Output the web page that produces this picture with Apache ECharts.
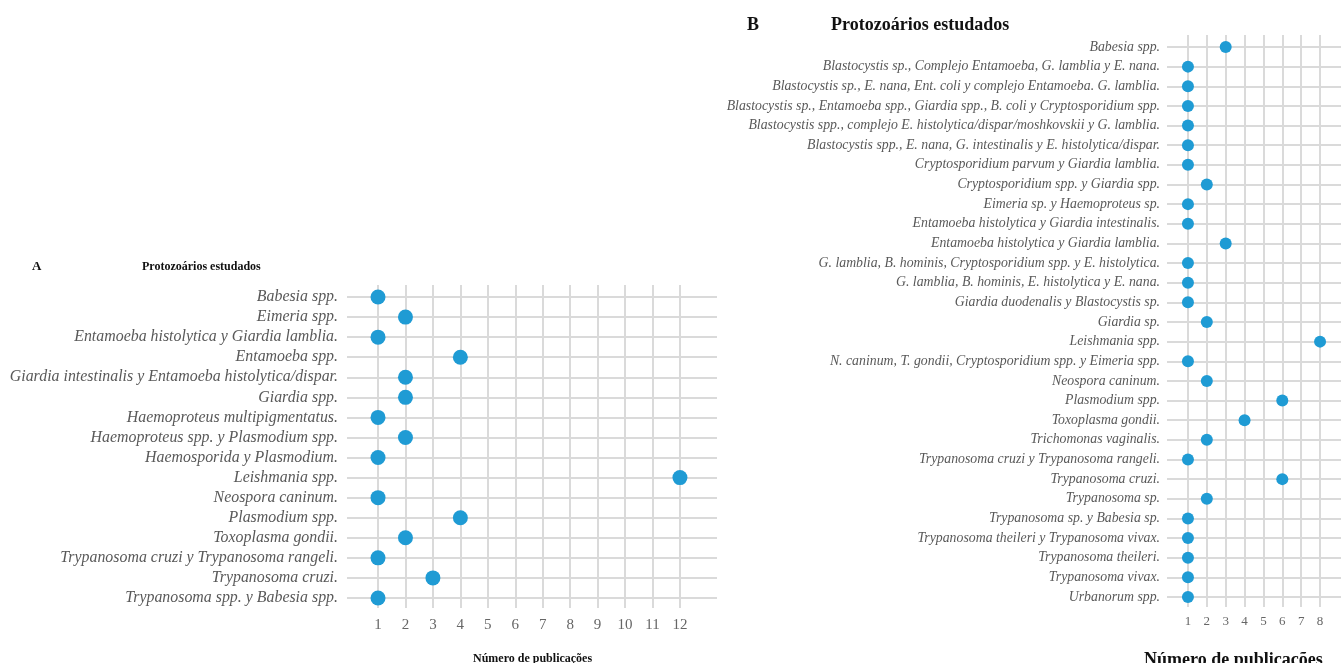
<!DOCTYPE html>
<html>
<head>
<meta charset="utf-8">
<script src="https://cdn.jsdelivr.net/npm/echarts@6/dist/echarts.min.js"></script>
<style>
  html, body { margin: 0; padding: 0; background: #fff; }
  #chart { width: 1341px; height: 663px; }
</style>
</head>
<body>
<div id="chart"></div>
<script>
// panel A
const catsA = [
  'Babesia spp.',
  'Eimeria spp.',
  'Entamoeba histolytica y Giardia lamblia.',
  'Entamoeba spp.',
  'Giardia intestinalis y Entamoeba histolytica/dispar.',
  'Giardia spp.',
  'Haemoproteus multipigmentatus.',
  'Haemoproteus spp. y Plasmodium spp.',
  'Haemosporida y Plasmodium.',
  'Leishmania spp.',
  'Neospora caninum.',
  'Plasmodium spp.',
  'Toxoplasma gondii.',
  'Trypanosoma cruzi y Trypanosoma rangeli.',
  'Trypanosoma cruzi.',
  'Trypanosoma spp. y Babesia spp.'
]
const valsA = [1, 2, 1, 4, 2, 2, 1, 2, 1, 12, 1, 4, 2, 1, 3, 1]
const ticksA = [1, 2, 3, 4, 5, 6, 7, 8, 9, 10, 11, 12]

// panel B
const catsB = [
  'Babesia spp.',
  'Blastocystis sp., Complejo Entamoeba, G. lamblia y E. nana.',
  'Blastocystis sp., E. nana, Ent. coli y complejo Entamoeba. G. lamblia.',
  'Blastocystis sp., Entamoeba spp., Giardia spp., B. coli y Cryptosporidium spp.',
  'Blastocystis spp., complejo E. histolytica/dispar/moshkovskii y G. lamblia.',
  'Blastocystis spp., E. nana, G. intestinalis y E. histolytica/dispar.',
  'Cryptosporidium parvum y Giardia lamblia.',
  'Cryptosporidium spp. y Giardia spp.',
  'Eimeria sp. y Haemoproteus sp.',
  'Entamoeba histolytica y Giardia intestinalis.',
  'Entamoeba histolytica y Giardia lamblia.',
  'G. lamblia, B. hominis, Cryptosporidium spp. y E. histolytica.',
  'G. lamblia, B. hominis, E. histolytica y E. nana.',
  'Giardia duodenalis y Blastocystis sp.',
  'Giardia sp.',
  'Leishmania spp.',
  'N. caninum, T. gondii, Cryptosporidium spp. y Eimeria spp.',
  'Neospora caninum.',
  'Plasmodium spp.',
  'Toxoplasma gondii.',
  'Trichomonas vaginalis.',
  'Trypanosoma cruzi y Trypanosoma rangeli.',
  'Trypanosoma cruzi.',
  'Trypanosoma sp.',
  'Trypanosoma sp. y Babesia sp.',
  'Trypanosoma theileri y Trypanosoma vivax.',
  'Trypanosoma theileri.',
  'Trypanosoma vivax.',
  'Urbanorum spp.'
]
const valsB = [3, 1, 1, 1, 1, 1, 1, 2, 1, 1, 3, 1, 1, 1, 2, 8, 1, 2, 6, 4, 2, 1, 6, 2, 1, 1, 1, 1, 1]
const ticksB = [1, 2, 3, 4, 5, 6, 7, 8]

const serif = '"Liberation Serif", "DejaVu Serif", serif'
const gridCol = '#dadada'
const dotCol = '#1f9bd4'

// y axis as value axis so that the gridlines sit on the category centres
function yAxisFor(cats, gridIndex, min, max, fontSize, margin) {
  const idx = cats.map((c, i) => i)
  return {
    type: 'value',
    gridIndex: gridIndex,
    inverse: true,
    min: min,
    max: max,
    axisLine: { show: false },
    axisTick: { show: false, customValues: idx },
    axisLabel: {
      customValues: idx,
      margin: margin,
      fontFamily: serif,
      fontStyle: 'italic',
      fontSize: fontSize,
      color: '#595959',
      formatter: v => cats[Math.round(v)] || ''
    },
    splitLine: { show: true, lineStyle: { color: gridCol, width: 2 } }
  }
}

function xAxisFor(ticks, gridIndex, min, max, fontSize, margin) {
  return {
    type: 'value',
    gridIndex: gridIndex,
    min: min,
    max: max,
    axisLine: { show: false },
    axisTick: { show: false, customValues: ticks },
    axisLabel: {
      customValues: ticks,
      margin: margin,
      fontFamily: serif,
      fontSize: fontSize,
      color: '#666'
    },
    splitLine: { show: true, lineStyle: { color: gridCol, width: 2 } }
  }
}

const chart = echarts.init(document.getElementById('chart'))

const option = {
  backgroundColor: '#fff',
  animation: false,
  title: [
    { text: 'A', left: 27, top: 255, textStyle: { fontFamily: serif, fontWeight: 'bold', fontSize: 13, color: '#111' } },
    { text: 'Protozoários estudados', left: 137, top: 256, textStyle: { fontFamily: serif, fontWeight: 'bold', fontSize: 12, color: '#111' } },
    { text: 'Número de publicações', left: 468, top: 648, textStyle: { fontFamily: serif, fontWeight: 'bold', fontSize: 12, color: '#111' } },
    { text: 'B', left: 742, top: 11, textStyle: { fontFamily: serif, fontWeight: 'bold', fontSize: 18, color: '#111' } },
    { text: 'Protozoários estudados', left: 826, top: 11, textStyle: { fontFamily: serif, fontWeight: 'bold', fontSize: 18, color: '#111' } },
    { text: 'Número de publicações', left: 1139, top: 646, textStyle: { fontFamily: serif, fontWeight: 'bold', fontSize: 18, color: '#111' } }
  ],
  grid: [
    { left: 347, width: 370, top: 285, height: 323 },
    { left: 1167, width: 174, top: 35, height: 572 }
  ],
  xAxis: [
    xAxisFor(ticksA, 0, -0.13, 13.35, 15, 10),
    xAxisFor(ticksB, 1, -0.11, 9.11, 13, 8)
  ],
  yAxis: [
    yAxisFor(catsA, 0, -0.6, 15.5, 15.9, 9),
    yAxisFor(catsB, 1, -0.61, 28.51, 13.8, 7)
  ],
  series: [
    {
      type: 'scatter',
      xAxisIndex: 0,
      yAxisIndex: 0,
      symbolSize: 15,
      itemStyle: { color: dotCol, opacity: 1 },
      data: valsA.map((v, i) => [v, i])
    },
    {
      type: 'scatter',
      xAxisIndex: 1,
      yAxisIndex: 1,
      symbolSize: 12,
      itemStyle: { color: dotCol, opacity: 1 },
      data: valsB.map((v, i) => [v, i])
    }
  ]
}

chart.setOption(option)
</script>
</body>
</html>
